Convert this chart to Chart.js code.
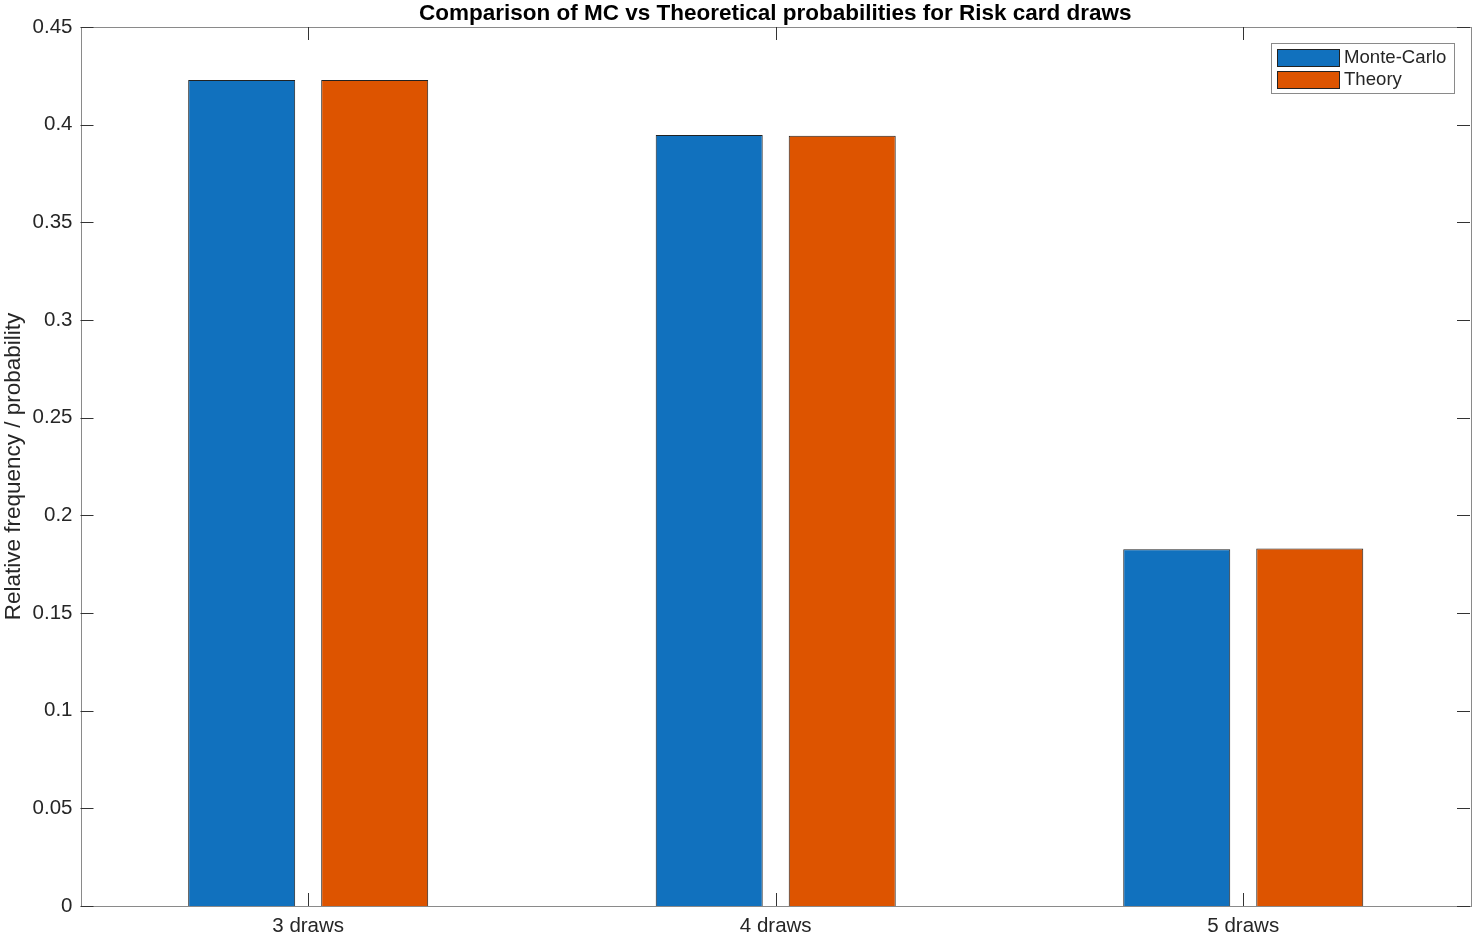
<!DOCTYPE html>
<html>
<head>
<meta charset="utf-8">
<script src="https://cdn.jsdelivr.net/npm/chart.js@4.4.1/dist/chart.umd.min.js"></script>
<style>
  html, body { margin: 0; padding: 0; background: #ffffff; }
  #wrap { width: 1474px; height: 934px; position: relative; }
</style>
</head>
<body>
<div id="wrap"><canvas id="c" width="1474" height="934"></canvas></div>
<script>
const categories = ["3 draws", "4 draws", "5 draws"];
const seriesNames = ["Monte-Carlo", "Theory"];
const monteCarlo = [0.4229, 0.3947, 0.1827];
const theory = [0.4229, 0.3943, 0.1830];
const yTicks = [0, 0.05, 0.1, 0.15, 0.2, 0.25, 0.3, 0.35, 0.4, 0.45];
const titleText = "Comparison of MC vs Theoretical probabilities for Risk card draws";
const yLabel = "Relative frequency / probability";

const FONT = "'Liberation Sans', Arial, Helvetica, sans-serif";
const colors = ["#1171BE", "#DD5400"];

const toPoints = arr => arr.map((v, i) => ({ x: i + 1, y: v }));

const boxPlugin = {
  id: 'matlabBox',
  afterDraw(chart) {
    const ctx = chart.ctx;
    const a = chart.chartArea;
    const xs = chart.scales.x, ys = chart.scales.y;
    ctx.save();
    // box
    ctx.strokeStyle = '#8a8a8a';
    ctx.lineWidth = 1;
    ctx.strokeRect(Math.round(a.left) + 0.5, Math.round(a.top) + 0.5,
                   Math.round(a.right - a.left), Math.round(a.bottom - a.top));
    // ticks (inward)
    ctx.strokeStyle = '#333333';
    const tl = 13;
    ctx.beginPath();
    yTicks.forEach(v => {
      const y = Math.round(ys.getPixelForValue(v)) + 0.5;
      ctx.moveTo(a.left, y); ctx.lineTo(a.left + tl, y);
      ctx.moveTo(a.right, y); ctx.lineTo(a.right - tl, y);
    });
    categories.forEach((c, i) => {
      const x = Math.round(xs.getPixelForValue(i + 1)) + 0.5;
      ctx.moveTo(x, a.bottom); ctx.lineTo(x, a.bottom - tl);
      ctx.moveTo(x, a.top); ctx.lineTo(x, a.top + tl);
    });
    ctx.stroke();
    // title
    ctx.fillStyle = '#000000';
    ctx.font = 'bold 22.5px ' + FONT;
    ctx.textAlign = 'center';
    ctx.textBaseline = 'alphabetic';
    ctx.fillText(titleText, (a.left + a.right) / 2, 20);
    // legend
    const lx = 1271, ly = 43, lw = 183, lh = 50;
    ctx.fillStyle = '#ffffff';
    ctx.fillRect(lx, ly, lw, lh);
    ctx.strokeStyle = '#8a8a8a';
    ctx.strokeRect(lx + 0.5, ly + 0.5, lw, lh);
    ctx.font = '18.6px ' + FONT;
    ctx.textAlign = 'left';
    ctx.textBaseline = 'middle';
    chart.data.datasets.forEach((ds, i) => {
      const sy = 49 + i * 22;
      ctx.fillStyle = ds.backgroundColor;
      ctx.fillRect(1277, sy, 62, 17);
      ctx.strokeStyle = '#222222';
      ctx.strokeRect(1277.5, sy + 0.5, 62, 17);
      ctx.fillStyle = '#262626';
      ctx.fillText(ds.label, 1344, sy + 9);
    });
    ctx.restore();
  }
};

new Chart(document.getElementById('c'), {
  type: 'bar',
  data: {
    datasets: [
      { label: seriesNames[0], data: toPoints(monteCarlo), backgroundColor: colors[0],
        borderColor: '#222222', borderWidth: 1, categoryPercentage: 0.569, barPercentage: 0.8045 },
      { label: seriesNames[1], data: toPoints(theory), backgroundColor: colors[1],
        borderColor: '#222222', borderWidth: 1, categoryPercentage: 0.569, barPercentage: 0.8045 }
    ]
  },
  options: {
    responsive: false,
    animation: false,
    devicePixelRatio: 1,
    layout: { padding: { top: 27, right: 4, left: 0, bottom: 0 } },
    plugins: { legend: { display: false }, title: { display: false }, tooltip: { enabled: false } },
    scales: {
      x: {
        type: 'linear',
        min: 0.513,
        max: 3.485,
        offset: false,
        grid: { display: false, drawTicks: false },
        border: { display: false },
        afterBuildTicks: s => { s.ticks = categories.map((c, i) => ({ value: i + 1 })); },
        afterFit: s => { s.height = 28; },
        ticks: {
          padding: 8,
          color: '#262626',
          font: { family: FONT, size: 20.5 },
          maxRotation: 0,
          autoSkip: false,
          callback: v => categories[Math.round(v) - 1]
        }
      },
      y: {
        min: 0,
        max: 0.45,
        grid: { display: false, drawTicks: false },
        border: { display: false },
        afterBuildTicks: s => { s.ticks = yTicks.map(v => ({ value: v })); },
        afterFit: s => { s.width = 80.5; },
        ticks: {
          padding: 8,
          color: '#262626',
          font: { family: FONT, size: 20.5 },
          callback: v => String(Number(v.toFixed(2)))
        },
        title: {
          display: true,
          text: yLabel,
          color: '#262626',
          font: { family: FONT, size: 22.5 },
          padding: { top: 0, bottom: 0 }
        }
      }
    }
  },
  plugins: [boxPlugin]
});
</script>
</body>
</html>
